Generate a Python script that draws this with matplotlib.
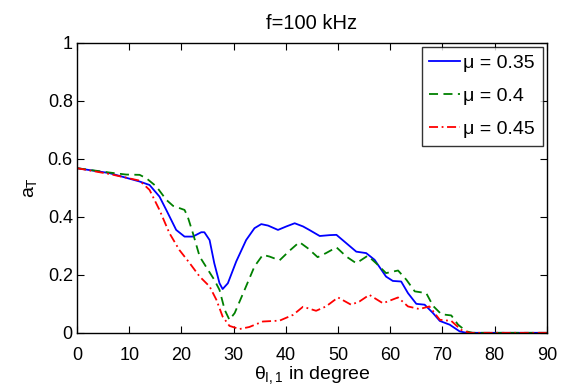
#!/usr/bin/env python3
"""Recreate the f=100 kHz a_T vs theta plot."""

import matplotlib

matplotlib.use('Agg')
import matplotlib.pyplot as plt
from matplotlib.ticker import FuncFormatter

plt.rcParams['font.family'] = ['Liberation Sans', 'DejaVu Sans']
plt.rcParams['mathtext.fontset'] = 'custom'
plt.rcParams['mathtext.rm'] = 'Liberation Sans'
plt.rcParams['mathtext.it'] = 'Liberation Sans'

TITLE = 'f=100 kHz'
LABELS = ['\u03bc = 0.35', '\u03bc = 0.4', '\u03bc = 0.45']

x_035 = [0, 6.2, 12, 13.9, 15.8, 17.1, 19, 20.6, 22.2, 23.8, 24.4, 25.4, 26.3,
         27.3, 27.9, 28.9, 30.5, 32.4, 34, 35.3, 36.6, 38.5, 40.1, 41.7, 43.3,
         44.5, 46.5, 48.4, 49.7, 51.6, 53.5, 55.4, 57, 59.2, 60.5, 62.1, 63.4,
         65, 66.6, 68.2, 69.5, 71.4, 73.3, 74.6, 90]
y_035 = [0.568, 0.551, 0.522, 0.510, 0.47, 0.424, 0.355, 0.332, 0.332, 0.347,
         0.347, 0.32, 0.24, 0.171, 0.151, 0.171, 0.246, 0.32, 0.361, 0.375,
         0.37, 0.355, 0.367, 0.378, 0.367, 0.355, 0.334, 0.337, 0.338, 0.309,
         0.28, 0.275, 0.252, 0.194, 0.179, 0.177, 0.137, 0.1, 0.097, 0.068,
         0.041, 0.028, 0.005, 0.0, 0.0]

x_040 = [0, 6.2, 9.4, 12, 13.3, 15.2, 17.1, 18.4, 20.6, 21.2, 22.2, 23.5,
         25.1, 26.3, 27.3, 28.3, 29.2, 30.2, 32.1, 34, 35.6, 36.9, 38.8, 40.7,
         42.6, 44.2, 46.1, 47.7, 49.7, 51.6, 53.5, 55.7, 57.3, 59.2, 61.5,
         63.1, 64.7, 66.9, 68.2, 69.8, 71.7, 73, 74.6, 75.8, 90]
y_040 = [0.568, 0.553, 0.546, 0.545, 0.533, 0.505, 0.459, 0.438, 0.424, 0.401,
         0.344, 0.263, 0.217, 0.183, 0.148, 0.079, 0.045, 0.068, 0.148, 0.229,
         0.269, 0.263, 0.25, 0.283, 0.313, 0.292, 0.261, 0.275, 0.295, 0.263,
         0.24, 0.266, 0.24, 0.206, 0.215, 0.183, 0.143, 0.137, 0.093, 0.064,
         0.06, 0.028, 0.005, 0.0, 0.0]

x_045 = [0, 6.2, 12, 13.9, 15.8, 17.7, 19.6, 21.6, 23.5, 25.4, 26.7, 27.9,
         29.2, 31.1, 33, 35.6, 38.8, 41.4, 43.3, 45.8, 47.7, 50, 52.5, 54.1,
         56, 58.6, 61.5, 63.4, 65.6, 67.5, 69.5, 71.7, 73.6, 75.2, 90]
y_045 = [0.568, 0.548, 0.525, 0.493, 0.424, 0.344, 0.286, 0.24, 0.194, 0.16,
         0.114, 0.056, 0.024, 0.013, 0.02, 0.039, 0.042, 0.062, 0.09, 0.076,
         0.091, 0.122, 0.097, 0.108, 0.131, 0.102, 0.122, 0.091, 0.082, 0.091,
         0.045, 0.041, 0.01, 0.0, 0.0]


def main() -> None:
    fig = plt.figure(figsize=(5.62, 3.87), dpi=100)
    ax = fig.add_axes([0.137, 0.140, 0.836, 0.749])

    ax.plot(x_035, y_035, color='#0000ff', lw=1.3, label=LABELS[0])
    ax.plot(x_040, y_040, color='#008000', lw=1.3, ls=(0, (5, 3)),
            label=LABELS[1])
    ax.plot(x_045, y_045, color='#ff0000', lw=1.3, ls=(0, (5, 2, 1, 2)),
            label=LABELS[2])

    ax.set_xlim(0, 90)
    ax.set_ylim(0, 1)
    ax.set_xticks(range(0, 91, 10))
    ax.set_yticks([0, 0.2, 0.4, 0.6, 0.8, 1])
    ax.yaxis.set_major_formatter(FuncFormatter(lambda v, _: f'{v:g}'))
    ax.tick_params(direction='in', length=5, width=0.8, labelsize=13,
                   top=True, right=True, colors='black')
    ax.tick_params(axis='x', pad=10)
    ax.tick_params(axis='y', pad=3)
    for sp in ax.spines.values():
        sp.set_linewidth(1.0)

    ax.set_title(TITLE, fontsize=14.5, pad=10)
    ax.set_xlabel(r'$\theta_{I,1}$ in degree', fontsize=14, labelpad=0)
    ax.set_ylabel(r'$a_T$', fontsize=14, labelpad=6)

    leg = ax.legend(loc='upper right', fontsize=14, frameon=True,
                    fancybox=False, edgecolor='black', handlelength=1.55,
                    handletextpad=0.2, borderpad=0.4, labelspacing=0.78,
                    borderaxespad=0.2)
    leg.get_frame().set_linewidth(1.0)

    fig.savefig('out.png', dpi=100)


if __name__ == '__main__':
    main()
